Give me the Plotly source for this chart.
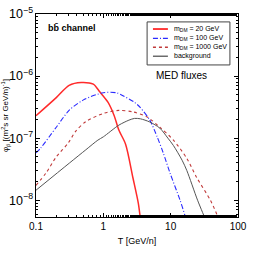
import plotly.graph_objects as go

# ---- data ----
T_20 = [0.1, 0.2, 0.31, 0.47, 0.71, 0.87, 1.17, 1.45, 1.7, 2.14, 2.75, 3.31, 3.55]
phi_20 = [2.3e-7, 4.5e-7, 7.1e-7, 7.9e-7, 7.4e-7, 5.7e-7, 3.8e-7, 2.3e-7, 1.35e-7, 8.0e-8, 2.3e-8, 8.9e-9, 5e-9]

T_100 = [0.1, 0.117, 0.2, 0.31, 0.5, 1.0, 1.55, 1.78, 2.88, 3.55, 4.9, 6.3, 7.76, 9.77, 13.8, 16.2, 17.8]
phi_100 = [5.8e-8, 6.9e-8, 1.5e-7, 2.8e-7, 4.1e-7, 5.4e-7, 5.4e-7, 5.1e-7, 3.8e-7, 3.1e-7, 1.95e-7,
           1.05e-7, 5.8e-8, 2.75e-8, 1.0e-8, 5.8e-9, 4e-9]

T_1000 = [0.1, 0.141, 0.2, 0.30, 0.39, 0.55, 1.0, 1.7, 2.75, 4.47, 6.9, 11.0, 17.4, 24.5, 38.9, 50.1, 56.2]
phi_1000 = [1.74e-8, 2.75e-8, 5.0e-8, 8.3e-8, 1.3e-7, 1.85e-7, 2.5e-7, 2.8e-7, 2.65e-7, 2.2e-7, 1.5e-7,
            9.3e-8, 4.7e-8, 2.3e-8, 1.0e-8, 5.4e-9, 3.5e-9]

T_bg = [0.1, 0.316, 0.55, 0.83, 1.0, 1.7, 2.4, 2.9, 3.55, 4.9, 6.9, 9.1, 11.0, 14.8, 17.4, 25.1, 34.7, 38]
phi_bg = [1.45e-8, 4.0e-8, 6.5e-8, 9.3e-8, 1.05e-7, 1.62e-7, 1.95e-7, 2.08e-7, 2.05e-7, 1.82e-7, 1.45e-7,
          1.0e-7, 7.6e-8, 4.4e-8, 3.0e-8, 1.0e-8, 4.2e-9, 3e-9]

x_ticks = [0.1, 1, 10, 100]
x_tick_labels = ["0.1", "1", "10", "100"]

series_names = ["m<sub>DM</sub> = 20 GeV", "m<sub>DM</sub> = 100 GeV",
                "m<sub>DM</sub> = 1000 GeV", "background"]
series_colors = ["#ff2a2a", "#2a2aff", "#c03a3a", "#555555"]
series_dash = ["solid", "5px,2px,1px,2px", "3px,3px", "solid"]
series_width = [1.5, 1.1, 1.1, 1.0]

FONT = "Liberation Sans, Arial, sans-serif"

fig = go.Figure()
for (xs, ys), name, c, d, w in zip([(T_20, phi_20), (T_100, phi_100), (T_1000, phi_1000), (T_bg, phi_bg)],
                                   series_names, series_colors, series_dash, series_width):
    fig.add_trace(go.Scatter(x=xs, y=ys, mode="lines", name=name, showlegend=False,
                             line=dict(color=c, width=w, dash=d, shape="spline", smoothing=0.8)))

axis_common = dict(showline=True, linecolor="black", linewidth=1, mirror="allticks",
                   ticks="inside", ticklen=4, tickcolor="black", showgrid=False, zeroline=False,
                   automargin=False, ticklabeloverflow="allow",
                   tickfont=dict(family=FONT, size=10, color="black"),
                   minor=dict(ticks="inside", ticklen=2, tickcolor="black", showgrid=False))

fig.update_xaxes(type="log", range=[-1, 2], tickvals=x_ticks, ticktext=x_tick_labels,
                 title=dict(text="T [GeV/n]", font=dict(family=FONT, size=9, color="black"), standoff=6),
                 **axis_common)
fig.update_yaxes(type="log", range=[-8.27, -5], dtick=1, exponentformat="power",
                 title=dict(text="φ<sub>p̄</sub> [(m<sup>2</sup>s sr GeV/n)<sup>-1</sup>]",
                            font=dict(family=FONT, size=8, color="black"), standoff=4),
                 **axis_common)

# legend box (drawn like the reference's compact legend)
lx0, lx1, ly0, ly1 = 0.55, 0.96, 0.749, 0.961
fig.add_shape(type="rect", xref="paper", yref="paper", x0=lx0, x1=lx1, y0=ly0, y1=ly1,
              line=dict(color="#444444", width=1), fillcolor="white", layer="above")
row_y = [0.926, 0.880, 0.836, 0.792]
for name, c, d, w, ry in zip(series_names, series_colors, series_dash, series_width, row_y):
    fig.add_shape(type="line", xref="paper", yref="paper", x0=0.579, x1=0.653, y0=ry, y1=ry,
                  line=dict(color=c, width=w + 0.3, dash=d), layer="above")
    fig.add_annotation(x=0.675, y=ry, xref="paper", yref="paper", xanchor="left", yanchor="middle",
                       text=name, showarrow=False, font=dict(family=FONT, size=7, color="black"))

fig.add_annotation(x=0.05, y=0.93, xref="paper", yref="paper", xanchor="left", yanchor="middle",
                   text="<b>bb̄ channel</b>", showarrow=False,
                   font=dict(family=FONT, size=9, color="black"))
fig.add_annotation(x=0.72, y=0.695, xref="paper", yref="paper", xanchor="center", yanchor="middle",
                   text="MED fluxes", showarrow=False,
                   font=dict(family=FONT, size=10, color="black"))

fig.update_layout(
    width=253, height=253,
    margin=dict(l=36, r=15, t=14, b=36, autoexpand=False),
    paper_bgcolor="white", plot_bgcolor="white",
    showlegend=False,
)

# remove the browser's default 8px body margin so the figure fills the window exactly
fig.write_html("out.html", config={"displayModeBar": False},
               post_script="document.body.style.margin='0';")
